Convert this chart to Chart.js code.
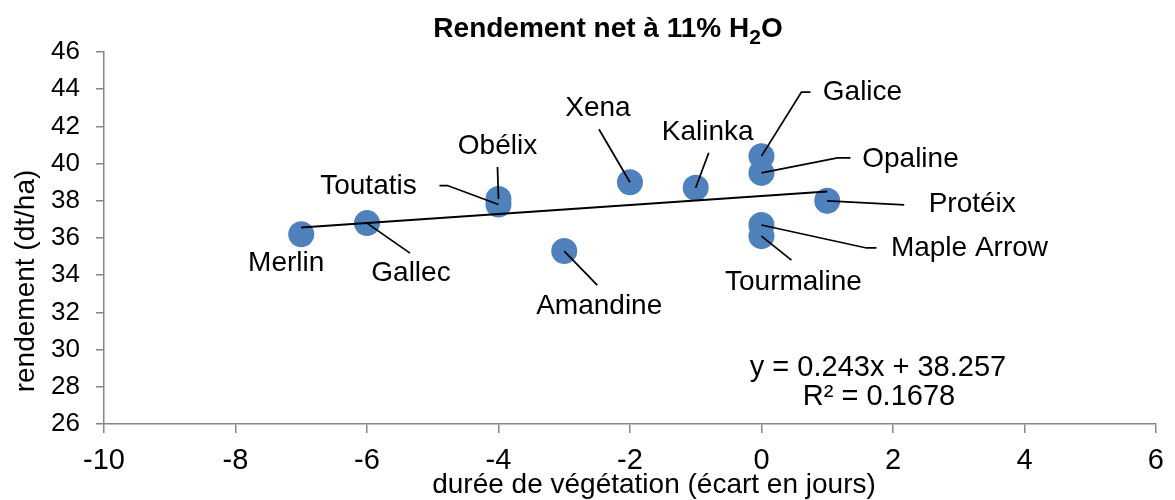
<!DOCTYPE html>
<html lang="fr">
<head>
    <meta charset="UTF-8">
    <title>Rendement net à 11% H2O</title>
    <script src="https://cdn.jsdelivr.net/npm/chart.js"></script>
    <style>
        body { margin: 0; background: #fff; }
        #wrap { width: 1175px; height: 500px; }
    </style>
</head>
<body>
    <div id="wrap">
        <canvas id="chart" width="1175" height="500"></canvas>
    </div>

    <script>
        // varieties, gap in days (x) and net yield dt/ha (y)
        const varieties = ['Merlin', 'Gallec', 'Toutatis', 'Obélix', 'Amandine', 'Xena', 'Kalinka',
                           'Galice', 'Opaline', 'Protéix', 'Maple Arrow', 'Tourmaline'];
        const ecartJours = [-7, -6, -4, -4, -3, -2, -1, 0, 0, 1, 0, 0];
        const rendement = [36.2, 36.8, 37.8, 38.1, 35.3, 39.0, 38.7, 40.4, 39.5, 38.0, 36.7, 36.1];

        // linear trendline endpoints (y = 0.243x + 38.257)
        const trendX = [-7, 1];
        const trendY = [36.56, 38.50];
        const equation = ['y = 0.243x + 38.257', 'R² = 0.1678'];

        const FONT = '"Liberation Sans", Arial, sans-serif';

        // label placement in pixels, relative to the point: text centre and leader path
        const labelLayout = {
            'Merlin':      { text: [-15, 29],   leader: [] },
            'Gallec':      { text: [44, 50],    leader: [[43, 30]] },
            'Toutatis':    { text: [-130, -18], leader: [[-51, -19], [-59, -19]] },
            'Obélix':      { text: [-1, -53],   leader: [[-1, -32]] },
            'Amandine':    { text: [35, 55],    leader: [[33, 34]] },
            'Xena':        { text: [-32, -74],  leader: [[-31, -53]] },
            'Kalinka':     { text: [12, -55],   leader: [[13, -35]] },
            'Galice':      { text: [101, -64],  leader: [[40, -64], [49, -64]] },
            'Opaline':     { text: [149, -14],  leader: [[76, -15], [89, -15]] },
            'Protéix':     { text: [145, 3],    leader: [[77, 4]] },
            'Maple Arrow': { text: [208, 23],   leader: [[105, 23], [115, 23]] },
            'Tourmaline':  { text: [32, 46],    leader: [[30, 24]] }
        };

        const annotations = {
            id: 'annotations',
            afterDatasetsDraw(chart) {
                const { ctx, scales: { x, y } } = chart;
                ctx.save();
                ctx.strokeStyle = '#000';
                ctx.lineWidth = 1.75;
                ctx.fillStyle = '#000';
                ctx.font = '28px ' + FONT;
                ctx.textAlign = 'center';
                ctx.textBaseline = 'middle';
                varieties.forEach((name, i) => {
                    const px = x.getPixelForValue(ecartJours[i]);
                    const py = y.getPixelForValue(rendement[i]);
                    const lay = labelLayout[name];
                    if (lay.leader.length) {
                        ctx.beginPath();
                        ctx.moveTo(px, py);
                        lay.leader.forEach(([dx, dy]) => ctx.lineTo(px + dx, py + dy));
                        ctx.stroke();
                    }
                    ctx.fillText(name, px + lay.text[0], py + lay.text[1]);
                });

                // trendline equation
                ctx.font = '29px ' + FONT;
                ctx.fillText(equation[0], 878, 368);
                ctx.fillText(equation[1], 879, 397);
                ctx.restore();
            },
            afterDraw(chart) {
                const { ctx } = chart;
                ctx.save();
                ctx.fillStyle = '#000';
                ctx.textBaseline = 'alphabetic';

                // title with subscript 2
                const big = 'bold 28px ' + FONT, small = 'bold 21px ' + FONT;
                const parts = [['Rendement net à 11% H', big, 0], ['2', small, 7], ['O', big, 0]];
                let total = 0;
                parts.forEach(p => { ctx.font = p[1]; total += ctx.measureText(p[0]).width; });
                let tx = 608 - total / 2;
                ctx.textAlign = 'left';
                parts.forEach(p => {
                    ctx.font = p[1];
                    ctx.fillText(p[0], tx, 37 + p[2]);
                    tx += ctx.measureText(p[0]).width;
                });

                // axis titles
                ctx.textAlign = 'center';
                ctx.font = '28px ' + FONT;
                ctx.fillText('durée de végétation (écart en jours)', 654, 493);
                ctx.translate(26, 281);
                ctx.rotate(-Math.PI / 2);
                ctx.font = '28px ' + FONT;
                ctx.textBaseline = 'middle';
                ctx.fillText('rendement (dt/ha)', 0, 0);
                ctx.restore();
            }
        };

        const axisGrey = '#868686';

        new Chart(document.getElementById('chart'), {
            type: 'scatter',
            data: {
                datasets: [
                    {
                        label: 'tendance',
                        data: trendX.map((v, i) => ({ x: v, y: trendY[i] })),
                        showLine: true,
                        borderColor: '#000',
                        borderWidth: 2,
                        pointRadius: 0,
                        order: 0
                    },
                    {
                        label: 'rendement',
                        data: ecartJours.map((v, i) => ({ x: v, y: rendement[i] })),
                        backgroundColor: '#4F81BD',
                        borderWidth: 0,
                        pointRadius: 13,
                        order: 1
                    }
                ]
            },
            options: {
                responsive: false,
                animation: false,
                layout: { padding: { top: 52, right: 11, left: 0, bottom: 0 } },
                plugins: {
                    legend: { display: false },
                    tooltip: { enabled: false },
                    title: { display: false }
                },
                scales: {
                    x: {
                        type: 'linear',
                        min: -10, max: 6,
                        ticks: { stepSize: 2, color: '#000', padding: 11, font: { family: FONT, size: 29 } },
                        grid: { drawOnChartArea: false, color: axisGrey, tickLength: 9, lineWidth: 1.5 },
                        border: { color: axisGrey, width: 1.5 },
                        afterFit: s => { s.height = 76; }
                    },
                    y: {
                        min: 26, max: 46,
                        ticks: { stepSize: 2, color: '#000', padding: 16, font: { family: FONT, size: 26 } },
                        grid: { drawOnChartArea: false, color: axisGrey, tickLength: 8, lineWidth: 1.5 },
                        border: { color: axisGrey, width: 1.5 },
                        afterFit: s => { s.width = 104; }
                    }
                }
            },
            plugins: [annotations]
        });
    </script>
</body>
</html>
